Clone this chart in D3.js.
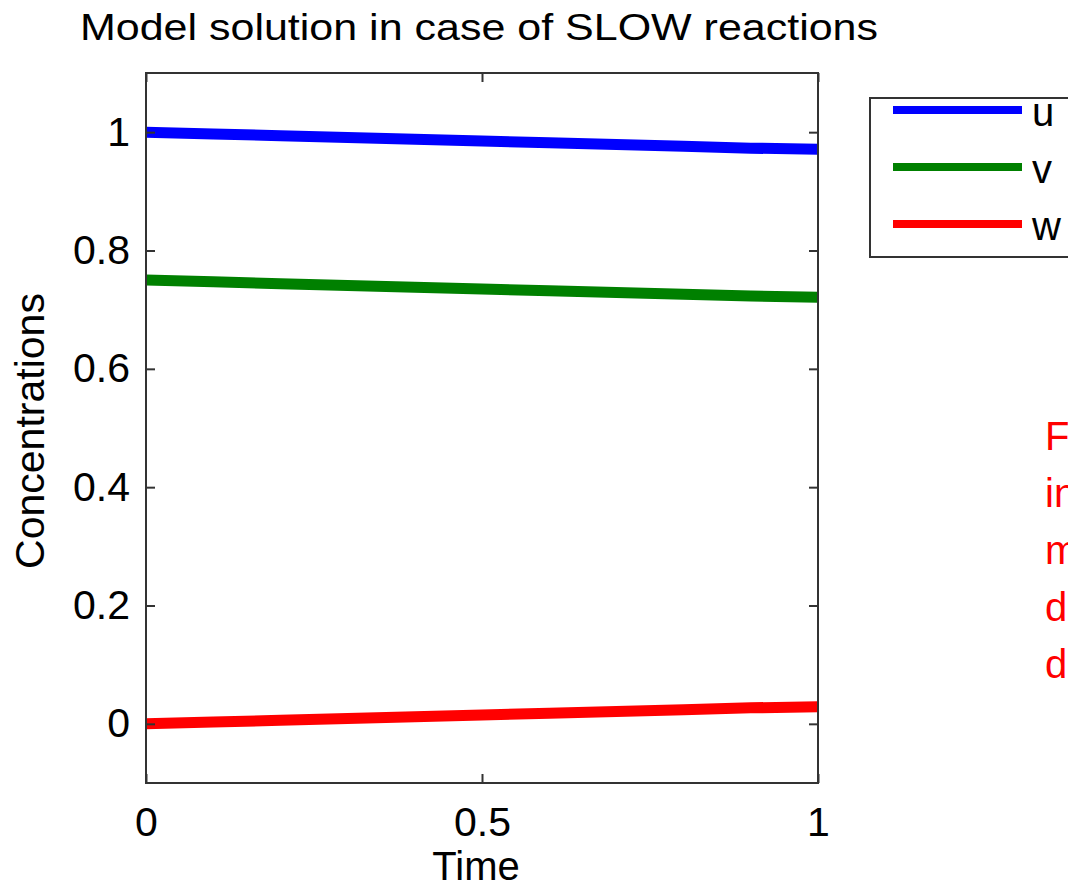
<!DOCTYPE html>
<html>
<head>
<meta charset="utf-8">
<script src="https://cdn.jsdelivr.net/npm/d3@7"></script>
<style>
  body { margin: 0; background: #fff; }
  text { font-family: "Liberation Sans", Arial, sans-serif; }
</style>
</head>
<body>
<div id="chart"></div>
<script>
// time points and concentrations
const time = [0, 0.1, 0.2, 0.3, 0.4, 0.5, 0.6, 0.7, 0.8, 0.9, 1.0];
const uVals = [1.000, 0.997, 0.994, 0.991, 0.988, 0.985, 0.982, 0.979, 0.976, 0.973, 0.971];
const vVals = [0.750, 0.747, 0.744, 0.741, 0.738, 0.735, 0.732, 0.729, 0.726, 0.723, 0.721];
const wVals = [0.000, 0.003, 0.006, 0.009, 0.012, 0.015, 0.018, 0.021, 0.024, 0.027, 0.029];
const seriesNames = ["u", "v", "w"];
const seriesColors = ["#0000ff", "#008000", "#ff0000"];
const xTicks = [0, 0.5, 1];
const yTicks = [0, 0.2, 0.4, 0.6, 0.8, 1];
const sideText = ["F", "in", "m", "d", "d"];

const W = 1068, H = 891;
const margin = { top: 73, left: 146, right: 250, bottom: 108 };
const width = W - margin.left - margin.right,
      height = H - margin.top - margin.bottom;

const svg = d3.select("#chart").append("svg")
    .attr("width", W)
    .attr("height", H);

svg.append("text")
    .attr("x", 80)
    .attr("y", 40)
    .attr("textLength", 798)
    .attr("lengthAdjust", "spacingAndGlyphs")
    .style("font-size", "37px")
    .text("Model solution in case of SLOW reactions");

const g = svg.append("g")
    .attr("transform", "translate(" + margin.left + "," + margin.top + ")");

var x = d3.scaleLinear().domain([0, 1]).range([0, width]);
var y = d3.scaleLinear().domain([-0.1, 1.1]).range([height, 0]);

// series lines
const series = [uVals, vVals, wVals];
const line = d3.line()
    .x((d, i) => x(time[i]))
    .y(d => y(d));

series.forEach((vals, k) => {
    g.append("path")
        .datum(vals)
        .attr("fill", "none")
        .attr("stroke", seriesColors[k])
        .attr("stroke-width", 11)
        .attr("d", line);
});

// box axes with inward ticks
const axisColor = "#333";
function styleAxis(sel) {
    sel.select(".domain").remove();
    sel.selectAll(".tick line").attr("stroke", axisColor).attr("stroke-width", 2);
    sel.selectAll("text")
        .style("font-family", "Liberation Sans, Arial, sans-serif")
        .style("font-size", "41px")
        .attr("fill", "#000");
}

g.append("g")
    .attr("transform", "translate(0," + height + ")")
    .call(d3.axisBottom(x).tickValues(xTicks).tickSize(-9).tickPadding(24).tickFormat(d3.format("")))
    .call(styleAxis);

g.append("g")
    .call(d3.axisTop(x).tickValues(xTicks).tickSize(-9).tickFormat(""))
    .call(styleAxis);

g.append("g")
    .call(d3.axisLeft(y).tickValues(yTicks).tickSize(-9).tickPadding(16).tickFormat(d3.format("")))
    .call(styleAxis);

g.append("g")
    .attr("transform", "translate(" + width + ",0)")
    .call(d3.axisRight(y).tickValues(yTicks).tickSize(-9).tickFormat(""))
    .call(styleAxis);

g.append("rect")
    .attr("width", width)
    .attr("height", height)
    .attr("fill", "none")
    .attr("stroke", axisColor)
    .attr("stroke-width", 2);

// axis titles
svg.append("text")
    .attr("x", margin.left + width / 2 - 6)
    .attr("y", 880)
    .attr("text-anchor", "middle")
    .style("font-size", "40px")
    .text("Time");

svg.append("text")
    .attr("transform", "translate(44," + (margin.top + height / 2 + 3) + ") rotate(-90)")
    .attr("text-anchor", "middle")
    .style("font-size", "41px")
    .text("Concentrations");

// legend
const leg = svg.append("g").attr("transform", "translate(870,98)");
leg.append("rect")
    .attr("width", 230)
    .attr("height", 159)
    .attr("fill", "#fff")
    .attr("stroke", axisColor)
    .attr("stroke-width", 2);

seriesNames.forEach((name, k) => {
    const ly = 12 + k * 57;
    leg.append("line")
        .attr("x1", 23).attr("x2", 152)
        .attr("y1", ly).attr("y2", ly)
        .attr("stroke", seriesColors[k])
        .attr("stroke-width", 8);
    leg.append("text")
        .attr("x", 162)
        .attr("y", ly + 16)
        .style("font-size", "40px")
        .text(name);
});

// side note, clipped at the right edge as in the original slide
svg.append("g").selectAll("text")
    .data(sideText)
    .join("text")
    .attr("x", 1045)
    .attr("y", (d, i) => 450 + i * 57)
    .attr("fill", "#ff0000")
    .style("font-size", "40px")
    .text(d => d);
</script>
</body>
</html>
